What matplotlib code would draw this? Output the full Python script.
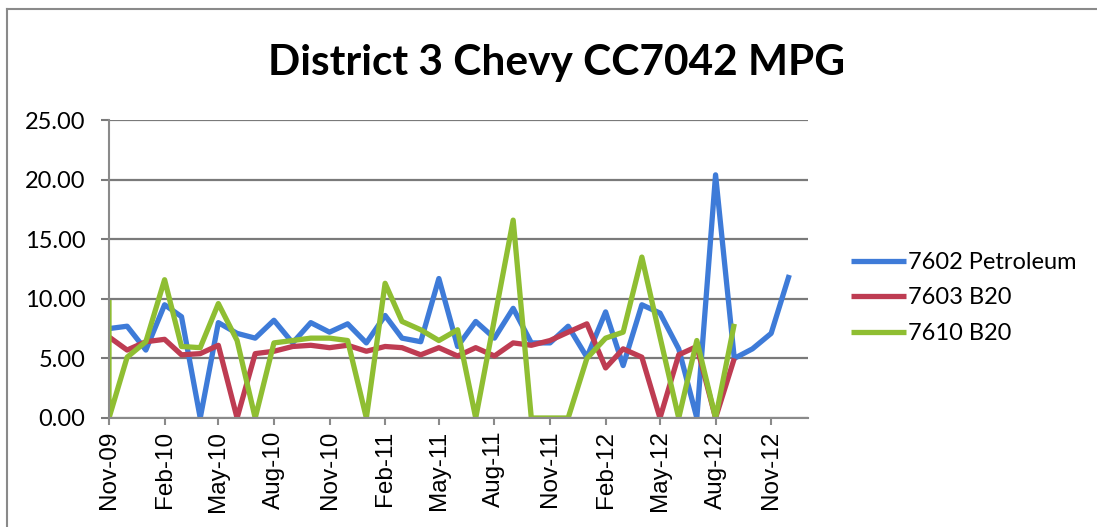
import matplotlib
matplotlib.use("Agg")
import matplotlib.pyplot as plt
import matplotlib.dates as mdates
from matplotlib.lines import Line2D
import pandas as pd

# monthly readings, Nov-09 .. Dec-12
months = pd.date_range("2009-11-01", "2012-12-01", freq="MS")

petroleum_7602 = [7.5, 7.7, 5.7, 9.5, 8.5, 0.0, 8.0, 7.1, 6.7, 8.2,
                  6.3, 8.0, 7.2, 7.9, 6.3, 8.6, 6.7, 6.4, 11.7, 6.0,
                  8.1, 6.7, 9.2, 6.3, 6.3, 7.7, 5.1, 8.9, 4.4, 9.5,
                  8.8, 5.8, 0.0, 20.4, 5.0, 5.8, 7.1, 12.0]

b20_7603 = [6.8, 5.7, 6.4, 6.6, 5.3, 5.4, 6.1, 0.0, 5.4, 5.6,
            6.0, 6.1, 5.9, 6.1, 5.6, 6.0, 5.9, 5.3, 5.9, 5.2,
            5.9, 5.2, 6.3, 6.1, 6.5, 7.2, 7.9, 4.2, 5.8, 5.1,
            0.0, 5.3, 6.0, 0.0, 5.0]

# 7610 has two entries in Nov-09 (9.9 then 0)
b20_7610 = [9.9, 0.0, 5.1, 6.4, 11.6, 6.0, 5.9, 9.6, 6.5, 0.0, 6.3,
            6.5, 6.7, 6.7, 6.5, 0.0, 11.3, 8.1, 7.4, 6.5, 7.4,
            0.0, 8.3, 16.6, 0.0, 0.0, 0.0, 5.0, 6.7, 7.2, 13.5,
            6.8, 0.0, 6.5, 0.0, 7.9]
b20_7610_months = [months[0]] + list(months[:len(b20_7610) - 1])

series = [
    ("7602 Petroleum", list(months[:len(petroleum_7602)]), petroleum_7602, "#3e7bd8"),
    ("7603 B20", list(months[:len(b20_7603)]), b20_7603, "#be3c52"),
    ("7610 B20", b20_7610_months, b20_7610, "#8fbe32"),
]

fig = plt.figure(figsize=(10.97, 5.27), dpi=100)
fig.patch.set_facecolor("white")
ax = fig.add_axes([109 / 1097, 1 - 418 / 527, (808 - 109) / 1097, (418 - 120) / 527])

for name, x, y, col in series:
    ax.plot(x, y, color=col, lw=3.8, label=name,
            solid_joinstyle="round", solid_capstyle="butt")

ax.set_xlim(pd.Timestamp("2009-11-01"), pd.Timestamp("2013-01-01"))
ax.set_ylim(0, 25)
ax.set_yticks([0, 5, 10, 15, 20, 25])
ax.yaxis.set_major_formatter(matplotlib.ticker.FormatStrFormatter("%.2f"))
ax.xaxis.set_major_locator(mdates.MonthLocator(bymonth=[2, 5, 8, 11]))
ax.xaxis.set_major_formatter(mdates.DateFormatter("%b-%y"))

ax.grid(axis="y", color="#7a7a7a", lw=1.6, zorder=0)
ax.set_axisbelow(True)
for s in ["top", "right"]:
    ax.spines[s].set_visible(False)
for s in ["left", "bottom"]:
    ax.spines[s].set_color("#8a8a8a")
    ax.spines[s].set_linewidth(1.5)

ax.tick_params(axis="y", length=6, width=1.5, color="#7a7a7a", pad=11)
ax.tick_params(axis="x", length=5, width=1.5, color="#8a8a8a", pad=4)
for lab in ax.get_yticklabels():
    lab.set_fontfamily("Lato")
    lab.set_fontsize(17)
for lab in ax.get_xticklabels():
    lab.set_fontfamily("Liberation Sans")
    lab.set_fontsize(17.5)
    lab.set_rotation(90)

fig.text(557 / 1097, 1 - 63 / 527, "District 3 Chevy CC7042 MPG",
         fontfamily="Lato", fontweight="bold", fontsize=30.5,
         ha="center", va="center")

fig.legend(loc="center left", bbox_to_anchor=(830 / 1097, 1 - 298 / 527),
           frameon=False, prop={"family": "Lato", "size": 17},
           handlelength=2.3, handletextpad=0.1, labelspacing=0.62)

# chart frame (scan shows only top and left edges)
fig.add_artist(Line2D([7 / 1097, 1], [1 - 9 / 527, 1 - 9 / 527],
                      color="#8a8a8a", lw=1.5, transform=fig.transFigure))
fig.add_artist(Line2D([7 / 1097, 7 / 1097], [0, 1 - 9 / 527],
                      color="#8a8a8a", lw=1.5, transform=fig.transFigure))

fig.savefig("out.png", dpi=100)
